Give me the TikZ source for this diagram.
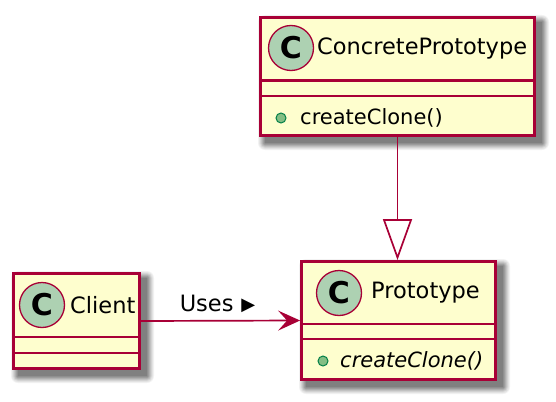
\documentclass[tikz,border=0pt]{standalone}
\usepackage{fontspec}
\setmainfont{DejaVu Sans}
\usetikzlibrary{arrows.meta}
\definecolor{umlborder}{HTML}{A80036}
\definecolor{umlfill}{HTML}{FEFECE}
\definecolor{umlcirc}{HTML}{ADD1B2}
\definecolor{pubfill}{HTML}{84BE84}
\definecolor{publine}{HTML}{038048}
\tikzset{
  classbox/.style={draw=umlborder, fill=umlfill, line width=2.8pt, rectangle, inner sep=0pt},
  sepline/.style={draw=umlborder, line width=2.8pt},
  badge/.style={circle, draw=umlborder, fill=umlcirc, line width=1.3pt, minimum size=45pt, inner sep=0pt,
    font=\fontsize{30}{30}\selectfont\bfseries},
  pubdot/.style={circle, draw=publine, fill=pubfill, line width=1pt, minimum size=10pt, inner sep=0pt},
  nametext/.style={anchor=west, inner sep=0pt, font=\fontsize{22.5}{24}\selectfont},
  methtext/.style={anchor=west, inner sep=0pt, font=\fontsize{21}{24}\selectfont},
  conn/.style={draw=umlborder, line width=1.7pt},
}
\newcommand{\shadowbox}[4]{% x1 y1 x2 y2
  \foreach \s/\o in {7/0.05,6/0.06,5/0.07,4/0.08,3/0.09,2/0.1,1/0.1,0/0.1}{
    \fill[black, opacity=\o, rounded corners=\s pt] ({#1+6-\s},{#2+6-\s}) rectangle ({#3+6+\s},{#4+6+\s});
  }
}
\begin{document}
\begin{tikzpicture}[x=1pt, y=-1pt]
\useasboundingbox (0,0) rectangle (556,401);
% shadows
\shadowbox{259}{16}{536}{137}
\shadowbox{12}{272}{141}{370}
\shadowbox{300}{260}{497}{381}
% ConcretePrototype
\node[classbox, minimum width=274pt, minimum height=118pt] (cp) at (397.5,76.5) {};
\draw[sepline] (cp.west |- 0,80.5) -- (cp.east |- 0,80.5);
\draw[sepline] (cp.west |- 0,96) -- (cp.east |- 0,96);
\node[badge] (cpc) at (291,48) {C};
\node[nametext] (cpn) at (317,48) {ConcretePrototype};
\node[pubdot] (cpd) at (281,118) {};
\node[methtext] (cpm) at (300,118) {createClone()};
% Client
\node[classbox, minimum width=126pt, minimum height=95pt] (cl) at (76.5,321) {};
\draw[sepline] (cl.west |- 0,337) -- (cl.east |- 0,337);
\draw[sepline] (cl.west |- 0,353) -- (cl.east |- 0,353);
\node[badge] (clc) at (42,305) {C};
\node[nametext] (cln) at (70,305) {Client};
% Prototype
\node[classbox, minimum width=194pt, minimum height=118pt] (pr) at (398.5,320.5) {};
\draw[sepline] (pr.west |- 0,324) -- (pr.east |- 0,324);
\draw[sepline] (pr.west |- 0,339) -- (pr.east |- 0,339);
\node[badge] (prc) at (339,293) {C};
\node[nametext] (prn) at (371,293) {Prototype};
\node[pubdot] (prd) at (323,361) {};
\node[methtext] (prm) at (340,361) {\itshape createClone()};
% connectors
\draw[conn, -{Stealth[length=22pt, width=20pt, inset=9pt, fill=umlborder]}] (cl.east) -- (pr.west)
  node[midway, above=7pt, inner sep=0pt, font=\fontsize{22.5}{24}\selectfont, xshift=-3pt] (uses) {Uses\hspace{0.35em}\raisebox{1pt}{\fontsize{18}{18}\selectfont ▶}};
\draw[conn, -{Triangle[open, length=41pt, width=29pt, line width=1.7pt]}] (cp.south) -- (cp.south |- pr.north);
\end{tikzpicture}
\end{document}
